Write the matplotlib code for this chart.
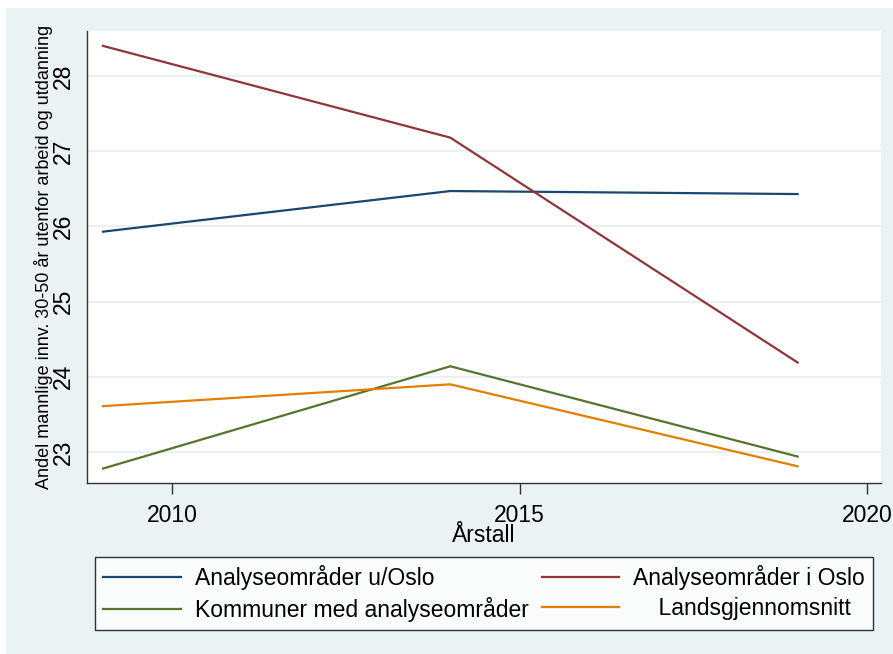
import matplotlib
matplotlib.use("Agg")
import matplotlib.pyplot as plt
from matplotlib.patches import Rectangle

plt.rcParams['font.family'] = ['Liberation Sans', 'DejaVu Sans']

years = [2009, 2014, 2019]
series_names = ["Analyseområder u/Oslo", "Analyseområder i Oslo",
                "Kommuner med analyseområder", "    Landsgjennomsnitt"]
u_oslo = [25.93, 26.47, 26.43]
i_oslo = [28.40, 27.18, 24.19]
kommuner = [22.78, 24.14, 22.94]
lands = [23.61, 23.90, 22.81]
x_ticks = [2010, 2015, 2020]
y_ticks = [23, 24, 25, 26, 27, 28]
x_title = "Årstall"
y_title = "Andel mannlige innv. 30-50 år utenfor arbeid og utdanning"

colors = ["#1A476F", "#90353B", "#55752F", "#E37E00"]
bg = "#EAF2F3"

W, H = 893, 654
fig = plt.figure(figsize=(W / 100, H / 100), dpi=100)
fig.patch.set_facecolor("white")
fig.patches.append(Rectangle((6 / W, 0), (W - 6) / W, (H - 8) / H,
                             transform=fig.transFigure, facecolor=bg,
                             edgecolor="none", zorder=-10))

ax = fig.add_axes([87 / W, 1 - 483 / H, (881 - 87) / W, (483 - 31) / H])
ax.set_facecolor("white")

handles = []
for vals, c, name in zip([u_oslo, i_oslo, kommuner, lands], colors, series_names):
    h, = ax.plot(years, vals, color=c, lw=1.6, label=name, zorder=3)
    handles.append(h)

ax.set_xlim(2008.77, 2020.2)
ax.set_ylim(22.588, 28.598)
ax.set_xticks(x_ticks)
ax.set_yticks(y_ticks)
ax.set_xticklabels([str(t) for t in x_ticks], fontsize=16.5)
ax.set_yticklabels([str(t) for t in y_ticks], fontsize=16.5, rotation=90, va="center")
ax.tick_params(axis="x", length=8, width=1, color="#333333", pad=7)
ax.tick_params(axis="y", length=0, pad=9)
ax.grid(axis="y", color=bg, lw=1.6, zorder=0)
ax.set_axisbelow(True)

for s in ["top", "right"]:
    ax.spines[s].set_visible(False)
for s in ["left", "bottom"]:
    ax.spines[s].set_color("#333333")
    ax.spines[s].set_linewidth(1.0)

ax.set_xlabel(x_title, fontsize=16.5, labelpad=-2)
ax.set_ylabel(y_title, fontsize=13.0, labelpad=-1)

order = [0, 2, 1, 3]
leg = fig.legend([handles[i] for i in order], [series_names[i] for i in order],
                 loc="center", ncol=2, mode="expand",
                 bbox_to_anchor=(95 / W, 1 - 631 / H, (873 - 95) / W, (631 - 556) / H),
                 fontsize=16.5, handlelength=3.4, handletextpad=0.6,
                 borderpad=0.35, labelspacing=0.3, columnspacing=0.6,
                 frameon=True, fancybox=False, borderaxespad=0)
leg.get_frame().set_edgecolor("black")
leg.get_frame().set_linewidth(1.0)
leg.get_frame().set_facecolor("white")

fig.savefig("out.png", dpi=100, facecolor=fig.get_facecolor())
